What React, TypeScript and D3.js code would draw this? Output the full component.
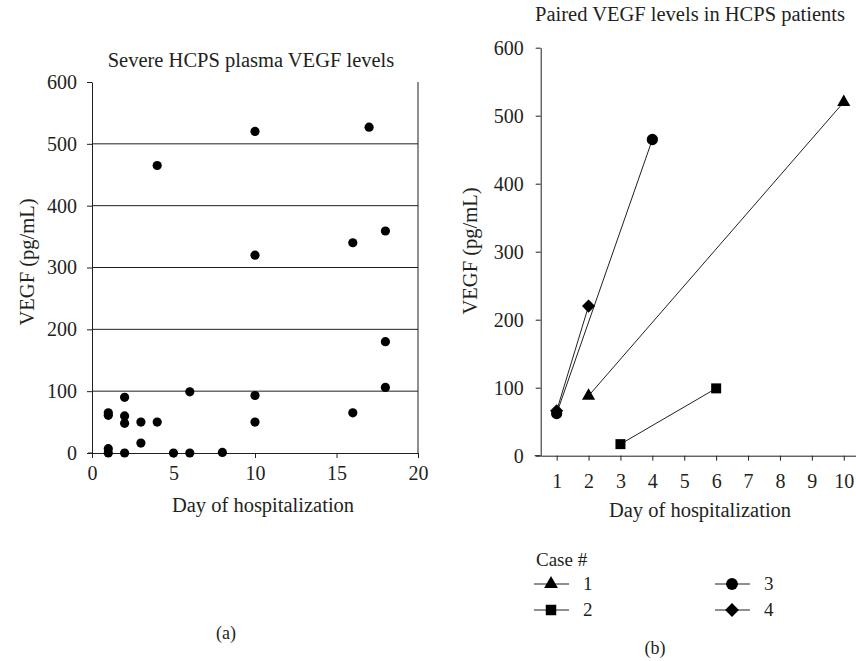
import React, { useEffect, useRef } from "react";
import * as d3 from "d3";

// panel (a): all severe HCPS samples
const scatterDays = [4, 10, 17, 10, 16, 18, 18, 18, 16, 10, 10, 6, 1, 1, 2, 2, 2, 3, 4, 3, 1, 1, 2, 5, 6, 8];
const scatterVegf = [465, 520, 527, 320, 340, 359, 180, 106, 65, 93, 50, 99, 65, 61, 90, 60, 48, 50, 50, 16, 7, 0, 0, 0, 0, 1];
const scatterXTicks = [0, 5, 10, 15, 20];
const vegfTicks = [0, 100, 200, 300, 400, 500, 600];

// panel (b): paired samples by case
const caseIds = ["1", "2", "3", "4"];
const caseDays = [
  [2, 10],
  [3, 6],
  [1, 4],
  [1, 2],
];
const caseVegf = [
  [88, 520],
  [17, 99],
  [62, 465],
  [66, 220],
];
const pairedXTicks = [1, 2, 3, 4, 5, 6, 7, 8, 9, 10];

const INK = "#231f20";
const FONT = "'Liberation Serif', 'Times New Roman', serif";

const diamond = (d3 as any).symbolDiamond2 || d3.symbolDiamond;
const caseSymbols = [d3.symbolTriangle, d3.symbolSquare, d3.symbolCircle, diamond];
const caseSizes = [75, 100, 100, 110];

export default function App() {
  const ref = useRef<SVGSVGElement>(null);

  useEffect(() => {
    const svg = d3.select(ref.current);
    svg.selectAll("*").remove();

    // ---------- panel (a) ----------
    const xa = d3.scaleLinear().domain([0, 20]).range([92, 418]);
    const ya = d3.scaleLinear().domain([0, 600]).range([453, 82]);
    const ga = svg.append("g");

    ga.selectAll(".grid")
      .data(vegfTicks.filter((t) => t > 0 && t < 600))
      .enter()
      .append("line")
      .attr("x1", xa(0))
      .attr("x2", xa(20))
      .attr("y1", (d) => ya(d))
      .attr("y2", (d) => ya(d))
      .attr("stroke", INK)
      .attr("stroke-width", 1);

    ga.append("line")
      .attr("x1", xa(20))
      .attr("x2", xa(20))
      .attr("y1", ya(600))
      .attr("y2", ya(0))
      .attr("stroke", INK);

    // x axis sticks out a little to the left of the y axis
    ga.append("line")
      .attr("x1", xa(0) - 4)
      .attr("x2", xa(0))
      .attr("y1", ya(0))
      .attr("y2", ya(0))
      .attr("stroke", INK);

    ga.append("g")
      .attr("transform", "translate(" + xa(0) + ",0)")
      .call(d3.axisLeft(ya).tickValues(vegfTicks).tickSize(5).tickPadding(10).tickSizeOuter(0));

    ga.append("g")
      .attr("transform", "translate(0," + ya(0) + ")")
      .call(d3.axisBottom(xa).tickValues(scatterXTicks).tickSize(5).tickPadding(8).tickSizeOuter(0));

    ga.selectAll(".dot")
      .data(scatterDays)
      .enter()
      .append("circle")
      .attr("cx", (d) => xa(d))
      .attr("cy", (d, i) => ya(scatterVegf[i]))
      .attr("r", 4.6)
      .attr("fill", "#000");

    ga.append("text")
      .attr("x", 251)
      .attr("y", 67)
      .attr("text-anchor", "middle")
      .attr("font-size", 20.5)
      .text("Severe HCPS plasma VEGF levels");
    ga.append("text")
      .attr("x", 263)
      .attr("y", 512)
      .attr("text-anchor", "middle")
      .attr("font-size", 20.5)
      .text("Day of hospitalization");
    ga.append("text")
      .attr("transform", "translate(34,262) rotate(-90)")
      .attr("text-anchor", "middle")
      .attr("font-size", 20.5)
      .text("VEGF (pg/mL)");
    ga.append("text")
      .attr("x", 226)
      .attr("y", 639)
      .attr("text-anchor", "middle")
      .attr("font-size", 18)
      .text("(a)");

    // ---------- panel (b) ----------
    const xb = d3.scaleLinear().domain([0.5, 10.5]).range([540.7, 859.7]);
    const yb = d3.scaleLinear().domain([0, 600]).range([455.7, 47.7]);
    const gb = svg.append("g");

    gb.append("line")
      .attr("x1", xb(0.5) - 6)
      .attr("x2", xb(0.5))
      .attr("y1", yb(0))
      .attr("y2", yb(0))
      .attr("stroke", INK);

    gb.append("g")
      .attr("transform", "translate(" + xb(0.5) + ",0)")
      .call(d3.axisLeft(yb).tickValues(vegfTicks).tickSize(5).tickPadding(12).tickSizeOuter(0));

    gb.append("g")
      .attr("transform", "translate(0," + yb(0) + ")")
      .call(d3.axisBottom(xb).tickValues(pairedXTicks).tickSize(5).tickPadding(13).tickSizeOuter(0));

    caseIds.forEach((id, c) => {
      const pts = caseDays[c].map((d, i) => [xb(d), yb(caseVegf[c][i])] as [number, number]);
      gb.append("path")
        .attr("d", d3.line()(pts))
        .attr("fill", "none")
        .attr("stroke", INK)
        .attr("stroke-width", 1);
    });
    caseIds.forEach((id, c) => {
      caseDays[c].forEach((d, i) => {
        gb.append("path")
          .attr("d", d3.symbol().type(caseSymbols[c]).size(caseSizes[c])())
          .attr("transform", "translate(" + xb(d) + "," + yb(caseVegf[c][i]) + ")")
          .attr("fill", "#000");
      });
    });

    gb.append("text")
      .attr("x", 690)
      .attr("y", 21)
      .attr("text-anchor", "middle")
      .attr("font-size", 20.5)
      .text("Paired VEGF levels in HCPS patients");
    gb.append("text")
      .attr("x", 700)
      .attr("y", 517)
      .attr("text-anchor", "middle")
      .attr("font-size", 20.5)
      .text("Day of hospitalization");
    gb.append("text")
      .attr("transform", "translate(477,251) rotate(-90)")
      .attr("text-anchor", "middle")
      .attr("font-size", 20.5)
      .text("VEGF (pg/mL)");
    gb.append("text")
      .attr("x", 655)
      .attr("y", 654)
      .attr("text-anchor", "middle")
      .attr("font-size", 18)
      .text("(b)");

    // legend
    const leg = gb.append("g");
    leg.append("text").attr("x", 536).attr("y", 566).attr("font-size", 19).text("Case #");
    const legX = [534, 534, 715, 715];
    const legY = [584, 610, 584, 610];
    caseIds.forEach((id, c) => {
      leg.append("line")
        .attr("x1", legX[c])
        .attr("x2", legX[c] + 35)
        .attr("y1", legY[c])
        .attr("y2", legY[c])
        .attr("stroke", INK);
      leg.append("path")
        .attr("d", d3.symbol().type(caseSymbols[c]).size(caseSizes[c] * 1.1)())
        .attr("transform", "translate(" + (legX[c] + 17) + "," + legY[c] + ")")
        .attr("fill", "#000");
      leg.append("text")
        .attr("x", legX[c] + 49)
        .attr("y", legY[c] + 6)
        .attr("font-size", 19)
        .text(id);
    });

    // axis styling
    svg.selectAll(".domain").attr("stroke", INK);
    svg.selectAll(".tick line").attr("stroke", INK);
    svg.selectAll(".tick text").attr("font-size", 20);
    svg.selectAll("text").attr("font-family", FONT).attr("fill", INK);
  }, []);

  return (
    <svg
      ref={ref}
      width={856}
      height={661}
      style={{ position: "absolute", left: 0, top: 0, background: "#fff" }}
    />
  );
}
